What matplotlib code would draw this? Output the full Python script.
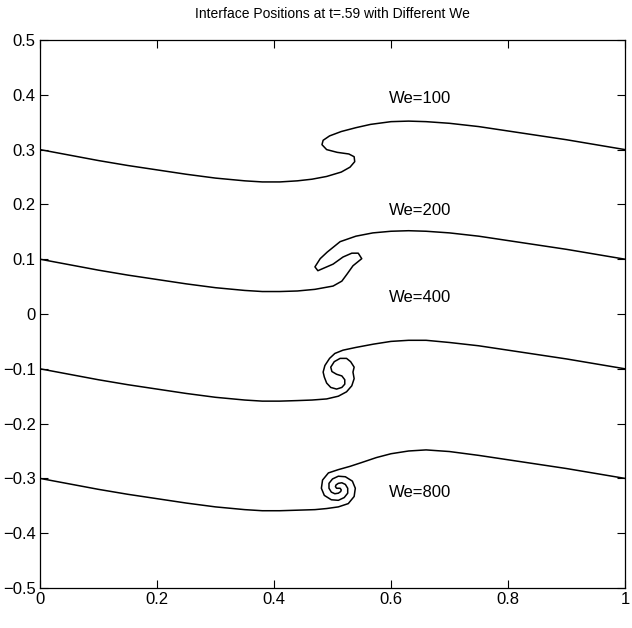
import matplotlib
matplotlib.use("Agg")
import matplotlib.pyplot as plt

plt.rcParams['font.family'] = ['Liberation Sans', 'DejaVu Sans']

# interface positions, one curve per Weber number
x_we100 = [0, .05, .10, .15, .20, .25, .30, .35, .38, .41, .44, .465, .49, .515, .530, .538,
           .537, .528, .508, .490, .482, .484, .495, .515, .540, .565, .60, .63, .66, .70,
           .75, .80, .85, .90, .95, 1.0]
y_we100 = [.300, .290, .280, .271, .263, .255, .248, .243, .241, .241, .243, .246, .251, .259,
           .268, .278, .287, .292, .295, .300, .309, .317, .325, .333, .340, .346, .351, .352,
           .351, .348, .342, .334, .326, .318, .309, .300]

x_we200 = [0, .05, .10, .15, .20, .25, .30, .35, .38, .41, .44, .47, .501, .516, .525, .535,
           .550, .544, .533, .518, .501, .475, .470, .479, .491, .513, .540, .569, .60, .63,
           .66, .70, .75, .80, .85, .90, .95, 1.0]
y_we200 = [.100, .090, .080, .071, .063, .055, .048, .043, .041, .041, .042, .045, .051, .060,
           .073, .088, .101, .111, .111, .104, .091, .079, .086, .101, .113, .132, .142, .148,
           .151, .152, .151, .148, .142, .134, .126, .118, .109, .100]

x_we400 = [0, .05, .10, .15, .20, .25, .30, .35, .38, .41, .44, .465, .490, .510, .524, .533,
           .537, .535, .537, .531, .524, .513, .503, .497, .499, .507, .516, .521, .521, .516,
           .507, .497, .490, .486, .484, .487, .495, .504, .518, .540, .570, .60, .63, .66,
           .70, .75, .80, .85, .90, .95, 1.0]
y_we400 = [-.100, -.110, -.120, -.129, -.137, -.145, -.152, -.157, -.159, -.159, -.158, -.157,
           -.155, -.150, -.142, -.131, -.118, -.106, -.097, -.087, -.081, -.081, -.087, -.097,
           -.105, -.110, -.113, -.120, -.128, -.134, -.137, -.134, -.126, -.115, -.106, -.094,
           -.081, -.072, -.066, -.061, -.055, -.050, -.048, -.048, -.052, -.058, -.066, -.074,
           -.082, -.091, -.100]

x_we800 = [0, .05, .10, .15, .20, .25, .30, .35, .38, .41, .44, .47, .49,
           .510, .527, .537, .539, .534, .522, .510, .500, .494, .494, .498, .504, .510, .514,
           .515, .513, .510,
           .507, .505, .506, .510, .516, .522, .526, .526, .520, .510, .498, .486, .481, .483,
           .493, .510,
           .53, .55, .575, .60, .63, .66, .70, .75, .80, .85, .90, .95, 1.0]
y_we800 = [-.300, -.310, -.320, -.329, -.337, -.345, -.352, -.357, -.359, -.359, -.358, -.357,
           -.355,
           -.352, -.346, -.333, -.318, -.305, -.297, -.296, -.301, -.309, -.318, -.325, -.328,
           -.327, -.324, -.321, -.318, -.318,
           -.318, -.315, -.312, -.309, -.308, -.311, -.318, -.327, -.335, -.340, -.339, -.331,
           -.318, -.303, -.290, -.284,
           -.278, -.271, -.262, -.255, -.250, -.248, -.251, -.258, -.266, -.274, -.282, -.291,
           -.300]

labels = ['We=100', 'We=200', 'We=400', 'We=800']
label_x = [0.65, 0.65, 0.65, 0.65]
label_y = [0.393, 0.188, 0.031, -0.325]

curves = [(x_we100, y_we100), (x_we200, y_we200), (x_we400, y_we400), (x_we800, y_we800)]

fig = plt.figure(figsize=(6.32, 6.28), dpi=100)
ax = fig.add_axes([0.0633, 0.0637, 0.9256, 0.8726])

for xs, ys in curves:
    ax.plot(xs, ys, color='black', linewidth=1.1)

for lab, lx, ly in zip(labels, label_x, label_y):
    ax.text(lx, ly, lab, ha='center', va='center', fontsize=12)

ax.set_xlim(0, 1)
ax.set_ylim(-0.5, 0.5)
ax.set_xticks([0, 0.2, 0.4, 0.6, 0.8, 1])
ax.set_xticklabels(['0', '0.2', '0.4', '0.6', '0.8', '1'])
ax.set_yticks([-0.5, -0.4, -0.3, -0.2, -0.1, 0, 0.1, 0.2, 0.3, 0.4, 0.5])
ax.set_yticklabels(['\u22120.5', '\u22120.4', '\u22120.3', '\u22120.2', '\u22120.1', '0',
                    '0.1', '0.2', '0.3', '0.4', '0.5'])
ax.tick_params(direction='in', length=6, width=0.8, labelsize=12, top=True, right=True,
               pad=3)
for sp in ax.spines.values():
    sp.set_linewidth(0.9)

ax.set_title('Interface Positions at t=.59 with Different We', fontsize=10, pad=16)

fig.savefig('out.png', dpi=100)
